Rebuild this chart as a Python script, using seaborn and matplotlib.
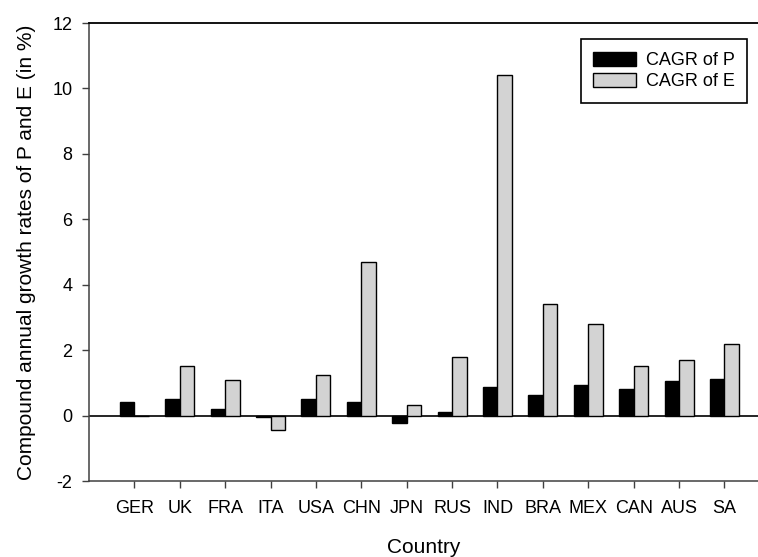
import numpy as np
import pandas as pd
import matplotlib
matplotlib.use("Agg")
import matplotlib.pyplot as plt
import seaborn as sns

# ── Données ───────────────────────────────────────────────────────────────────
countries = ["GER", "UK", "FRA", "ITA", "USA", "CHN", "JPN",
             "RUS", "IND", "BRA", "MEX", "CAN", "AUS", "SA"]
cagr_p = [0.42, 0.51, 0.21, -0.03, 0.51, 0.42, -0.22,
          0.12, 0.86, 0.64, 0.94, 0.82, 1.05, 1.13]
cagr_e = [0.0, 1.51, 1.10, -0.43, 1.25, 4.70, 0.31,
          1.80, 10.40, 3.40, 2.80, 1.51, 1.71, 2.20]
series_names = ["CAGR of P", "CAGR of E"]
yticks = [-2, 0, 2, 4, 6, 8, 10, 12]

df = pd.DataFrame({
    "Country": countries * 2,
    "value": cagr_p + cagr_e,
    "Series": [series_names[0]] * len(countries) + [series_names[1]] * len(countries),
})

# ── Style ─────────────────────────────────────────────────────────────────────
sns.set_style("ticks")
plt.rcParams["font.family"] = ["Liberation Sans", "DejaVu Sans"]
plt.rcParams["axes.unicode_minus"] = False
plt.rcParams["text.color"] = "black"
plt.rcParams["axes.labelcolor"] = "black"
plt.rcParams["xtick.labelcolor"] = "black"
plt.rcParams["ytick.labelcolor"] = "black"

fig = plt.figure(figsize=(7.58, 5.57), dpi=100)
ax = fig.add_axes([89 / 758, 76 / 557, 669 / 758, 458 / 557])

sns.barplot(data=df, x="Country", y="value", hue="Series",
            palette=["#000000", "#d3d3d3"], edgecolor="black", linewidth=1.0,
            width=0.64, gap=0, errorbar=None, saturation=1, ax=ax)

ax.axhline(0, color="black", lw=1.2, zorder=0.5)

ax.set_xlim(-1, 13.74)
ax.set_ylim(-2, 12)
ax.set_yticks(yticks)

for side in ["left", "bottom"]:
    ax.spines[side].set_color("#404040")
    ax.spines[side].set_linewidth(1.1)
ax.spines["top"].set_color("black")
ax.spines["top"].set_linewidth(1.3)
ax.spines["right"].set_visible(False)

ax.tick_params(axis="both", direction="out", length=5, width=1.0,
               color="#404040", labelcolor="black", labelsize=13, pad=7)
ax.tick_params(axis="x", pad=9)

ax.set_xlabel("Country", fontsize=15, labelpad=15, color="black")
ax.set_ylabel("Compound annual growth rates of P and E (in %)", fontsize=15,
              labelpad=12, color="black")

sns.move_legend(ax, "upper right", bbox_to_anchor=(0.9836, 0.9644), title=None,
                frameon=True, fancybox=False, fontsize=13, borderaxespad=0,
                handlelength=2.4, handleheight=0.8, handletextpad=0.5,
                labelspacing=0.2, borderpad=0.7)
leg = ax.get_legend()
leg.get_frame().set_edgecolor("black")
leg.get_frame().set_linewidth(1.2)
leg.get_frame().set_alpha(1)
for t in leg.get_texts():
    t.set_color("black")

plt.savefig("out.png", dpi=100)
